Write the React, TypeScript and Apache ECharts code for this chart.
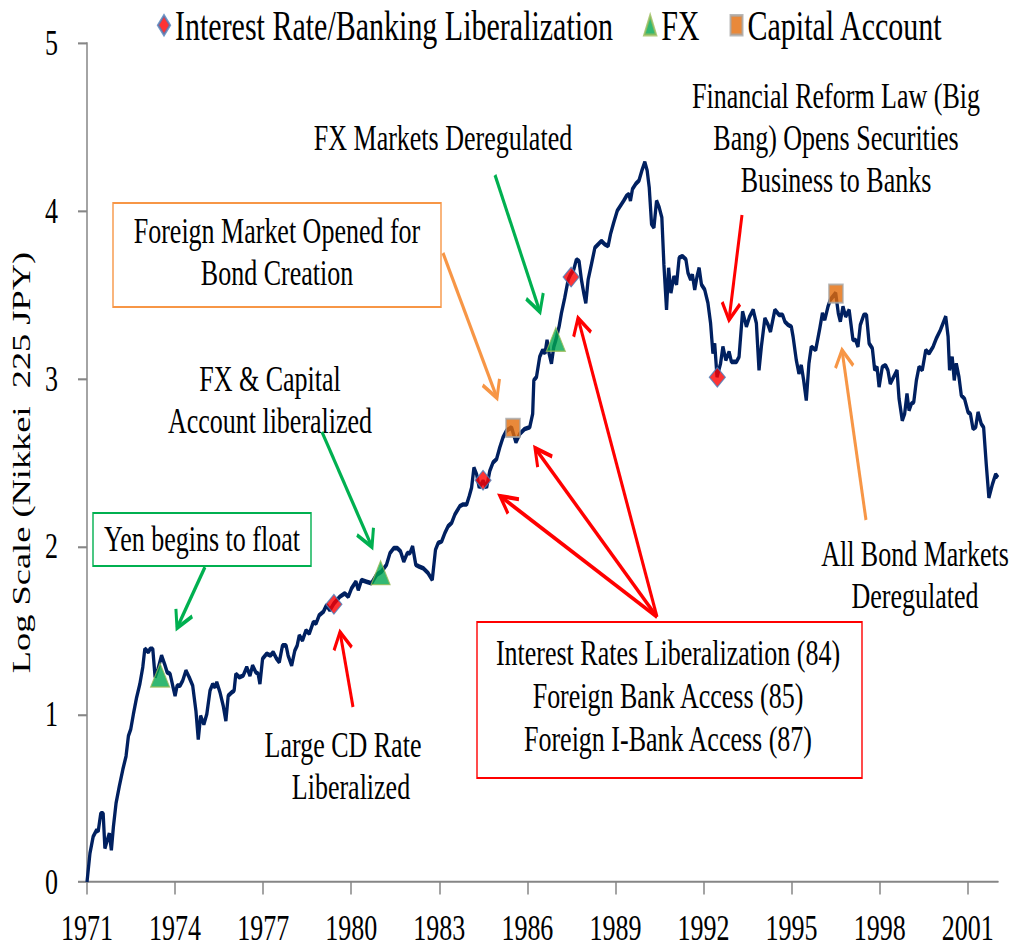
import React, { useEffect, useRef } from "react";
import * as echarts from "echarts";

// ---------- data ----------
const years = [
  1971.00,1971.10,1971.21,1971.33,1971.38,1971.47,1971.55,1971.61,1971.69,1971.76,
  1971.83,1971.90,1971.99,1972.10,1972.22,1972.33,1972.41,1972.49,1972.58,1972.69,
  1972.80,1972.90,1972.97,1973.09,1973.15,1973.24,1973.32,1973.42,1973.54,1973.66,
  1973.73,1973.83,1973.92,1974.00,1974.07,1974.17,1974.26,1974.37,1974.48,1974.60,
  1974.71,1974.79,1974.87,1974.98,1975.08,1975.19,1975.28,1975.36,1975.42,1975.53,
  1975.64,1975.73,1975.81,1975.93,1976.01,1976.07,1976.19,1976.32,1976.44,1976.55,
  1976.64,1976.75,1976.83,1976.89,1976.98,1977.12,1977.25,1977.34,1977.46,1977.55,
  1977.66,1977.78,1977.85,1977.97,1978.08,1978.16,1978.23,1978.34,1978.46,1978.57,
  1978.71,1978.80,1978.91,1979.05,1979.16,1979.27,1979.41,1979.61,1979.78,1979.90,
  1980.01,1980.16,1980.24,1980.35,1980.52,1980.69,1980.86,1981.03,1981.20,1981.32,
  1981.45,1981.57,1981.68,1981.79,1981.91,1982.00,1982.09,1982.20,1982.31,1982.45,
  1982.62,1982.76,1982.87,1982.96,1983.08,1983.19,1983.30,1983.42,1983.53,1983.70,
  1983.81,1983.93,1984.02,1984.10,1984.18,1984.27,1984.36,1984.49,1984.61,1984.72,
  1984.83,1984.95,1985.06,1985.17,1985.29,1985.46,1985.61,1985.74,1985.91,1986.08,
  1986.18,1986.22,1986.31,1986.42,1986.52,1986.60,1986.67,1986.74,1986.82,1986.90,
  1986.97,1987.08,1987.16,1987.27,1987.39,1987.47,1987.58,1987.67,1987.76,1987.84,
  1987.92,1987.99,1988.07,1988.18,1988.30,1988.41,1988.52,1988.64,1988.75,1988.83,
  1988.94,1989.06,1989.17,1989.28,1989.38,1989.46,1989.51,1989.58,1989.69,1989.80,
  1989.90,1990.00,1990.08,1990.15,1990.23,1990.31,1990.40,1990.49,1990.58,1990.65,
  1990.74,1990.81,1990.89,1990.99,1991.08,1991.17,1991.28,1991.40,1991.47,1991.56,
  1991.62,1991.70,1991.78,1991.85,1991.93,1992.04,1992.15,1992.24,1992.32,1992.38,
  1992.46,1992.58,1992.66,1992.76,1992.87,1992.95,1993.12,1993.21,1993.33,1993.46,
  1993.57,1993.69,1993.80,1993.89,1993.97,1994.09,1994.20,1994.28,1994.43,1994.57,
  1994.69,1994.77,1994.88,1994.99,1995.05,1995.16,1995.25,1995.33,1995.41,1995.50,
  1995.59,1995.67,1995.82,1995.95,1996.05,1996.13,1996.24,1996.32,1996.50,1996.59,
  1996.66,1996.75,1996.84,1996.96,1997.09,1997.18,1997.26,1997.34,1997.46,1997.55,
  1997.64,1997.75,1997.83,1997.91,1997.98,1998.09,1998.20,1998.28,1998.36,1998.59,
  1998.66,1998.77,1998.85,1998.93,1999.00,1999.08,1999.16,1999.25,1999.34,1999.45,
  1999.57,1999.68,1999.82,1999.93,2000.07,2000.18,2000.25,2000.33,2000.38,2000.47,
  2000.54,2000.61,2000.70,2000.78,2000.89,2001.01,2001.09,2001.18,2001.27,2001.35,
  2001.46,2001.54,2001.63,2001.72,2001.84,2001.95,2002.03,
];

const logNikkei = [
  0.00,0.17,0.27,0.31,0.30,0.41,0.41,0.20,0.25,0.29,
  0.19,0.33,0.47,0.57,0.67,0.75,0.87,0.91,1.00,1.10,
  1.18,1.28,1.39,1.37,1.39,1.39,1.22,1.27,1.35,1.29,
  1.25,1.24,1.17,1.11,1.17,1.17,1.20,1.26,1.22,1.17,
  1.02,0.85,0.99,0.94,1.00,1.14,1.18,1.16,1.19,1.13,
  1.05,0.96,1.11,1.13,1.14,1.24,1.22,1.23,1.28,1.23,
  1.29,1.25,1.24,1.18,1.33,1.36,1.35,1.37,1.33,1.31,
  1.41,1.41,1.35,1.29,1.38,1.41,1.47,1.44,1.50,1.48,
  1.55,1.54,1.59,1.61,1.65,1.62,1.66,1.70,1.72,1.70,
  1.75,1.79,1.74,1.80,1.79,1.78,1.83,1.85,1.89,1.96,
  1.99,1.99,1.97,1.91,1.96,1.96,2.00,1.89,1.88,1.87,
  1.84,1.80,1.98,2.02,2.03,2.08,2.12,2.14,2.19,2.24,
  2.25,2.25,2.30,2.35,2.47,2.43,2.35,2.39,2.35,2.45,
  2.50,2.52,2.59,2.65,2.69,2.71,2.62,2.67,2.70,2.71,
  2.79,2.99,3.01,3.13,3.17,3.15,3.23,3.15,3.09,3.19,
  3.23,3.31,3.39,3.48,3.59,3.62,3.65,3.71,3.70,3.59,
  3.51,3.45,3.59,3.68,3.78,3.80,3.82,3.80,3.79,3.86,
  3.93,4.00,4.03,4.06,4.09,4.10,4.06,4.13,4.16,4.18,
  4.24,4.29,4.24,4.14,3.92,3.90,4.06,4.02,3.96,3.68,
  3.41,3.66,3.51,3.61,3.56,3.72,3.73,3.71,3.63,3.59,
  3.62,3.53,3.61,3.66,3.56,3.53,3.45,3.33,3.15,3.21,
  3.01,3.09,3.19,3.11,3.16,3.10,3.10,3.13,3.40,3.31,
  3.37,3.41,3.33,3.05,3.19,3.36,3.32,3.28,3.41,3.38,
  3.38,3.34,3.32,3.31,3.25,3.11,3.03,3.08,2.99,2.87,
  3.09,3.19,3.17,3.29,3.39,3.35,3.43,3.47,3.51,3.39,
  3.34,3.43,3.37,3.41,3.23,3.23,3.19,3.32,3.38,3.38,
  3.21,3.18,3.05,3.07,2.95,3.07,3.08,3.05,2.97,3.05,
  2.88,2.75,2.79,2.91,2.81,2.85,2.86,2.99,3.07,3.05,
  3.17,3.15,3.19,3.24,3.29,3.34,3.37,3.25,3.05,3.13,
  2.99,3.09,3.01,2.90,2.88,2.80,2.79,2.70,2.71,2.80,
  2.73,2.71,2.49,2.29,2.37,2.43,2.41,
];

const interestRatePoints = [[1979.41, 1.655], [1984.49, 2.394], [1987.49, 3.605], [1992.47, 3.008]];
const fxPoints = [[1973.49, 1.233], [1981.0, 1.843], [1986.97, 3.234]];
const capitalPoints = [[1985.51, 2.706], [1996.51, 3.506]];

const xFirstYear = 1971;
const xLastTickYear = 2001;
const xLastYear = 2002.03;
const xTickStep = 3;
const legendNames = ["Interest Rate/Banking Liberalization", "FX", "Capital Account"];
const yTitle = "Log Scale (Nikkei  225 JPY)";

// ---------- layout ----------
const W = 1012;
const H = 678;
const S = 949 / H; // vertical stretch of the reference
const FONT = "Liberation Serif";
const GREEN = "#00B050";
const ORANGE = "#F79646";
const RED = "#FF0000";
const AXIS = "#868686";

const GRID_LEFT = 87;
const GRID_RIGHT = 14;
const GRID_TOP = 43 / S;
const GRID_BOTTOM = 67 / S;
const plotW = W - GRID_LEFT - GRID_RIGHT;
// second grid carries only the tick marks / labels, ending exactly on the last tick year
const tickGridRight =
  GRID_RIGHT + (plotW * (xLastYear - xLastTickYear)) / (xLastYear - xFirstYear);

type P = [number, number];
const d = (p: P): number[] => [p[0], p[1] / S];

function arrow(tail: P, tip: P, color: string) {
  const dx = tip[0] - tail[0];
  const dy = tip[1] - tail[1];
  const len = Math.hypot(dx, dy);
  const ux = dx / len, uy = dy / len;
  const L = 17, Wd = 9;
  const bx = tip[0] - ux * L, by = tip[1] - uy * L;
  const p1: P = [bx - uy * Wd, by + ux * Wd];
  const p2: P = [bx + uy * Wd, by - ux * Wd];
  const a = d(tail), b = d(tip);
  return [
    {
      type: "line",
      z: 100,
      shape: { x1: a[0], y1: a[1], x2: b[0], y2: b[1] },
      style: { stroke: color, lineWidth: 3 },
    },
    {
      type: "polyline",
      z: 100,
      shape: { points: [d(p1), b, d(p2)] },
      style: { stroke: color, lineWidth: 3, fill: null, lineJoin: "miter" },
    },
  ];
}

function label(text: string, x: number, yRef: number, lh = 30) {
  return {
    type: "text",
    z: 100,
    style: {
      text,
      x,
      y: yRef / S,
      fill: "#000",
      fontSize: 26,
      fontFamily: FONT,
      lineHeight: lh,
      align: "center",
      verticalAlign: "middle",
      textAlign: "center",
      textVerticalAlign: "middle",
    },
  };
}

function box(x: number, yRef: number, w: number, hRef: number, color: string) {
  return {
    type: "rect",
    z: 99,
    shape: { x, y: yRef / S, width: w, height: hRef / S },
    style: { fill: "rgba(255,255,255,0)", stroke: color, lineWidth: 1.4 },
  };
}

export default function App() {
  const ref = useRef<HTMLDivElement>(null);

  useEffect(() => {
    if (!ref.current) return;
    const chart = echarts.init(ref.current, null, { renderer: "svg" });
    const lineData = years.map((y, i) => [y, logNikkei[i]]);

    const graphics: any[] = [
      box(113, 203, 328, 104, ORANGE),
      box(93, 513, 218, 53, GREEN),
      box(477, 622, 385, 156, RED),
      label("FX Markets Deregulated", 443, 138),
      label("Financial Reform Law (Big\nBang) Opens Securities\nBusiness to Banks", 836, 138),
      label("Foreign Market Opened for\nBond Creation", 277, 251.5),
      label("FX & Capital\nAccount liberalized", 270, 399.5),
      label("Yen begins to float", 202, 539),
      label("Large CD Rate", 343, 745),
      label("Liberalized", 351, 787),
      label("Interest Rates Liberalization (84)\nForeign Bank Access (85)\nForeign I-Bank Access (87)", 668, 696, 31),
      label("All Bond Markets\nDeregulated", 915, 574.5),
      ...arrow([205, 567], [177, 628], GREEN),
      ...arrow([322, 432], [372, 547], GREEN),
      ...arrow([443, 253], [497, 398], ORANGE),
      ...arrow([495, 175], [540, 312], GREEN),
      ...arrow([353, 707], [340, 632], RED),
      ...arrow([657, 617], [500, 496], RED),
      ...arrow([657, 617], [535, 448], RED),
      ...arrow([657, 617], [578, 318], RED),
      ...arrow([742, 215], [729, 320], RED),
      ...arrow([866, 520], [842, 350], ORANGE),
    ];

    chart.setOption({
      animation: false,
      backgroundColor: "#fff",
      textStyle: { fontFamily: FONT },
      grid: [
        { left: GRID_LEFT, right: GRID_RIGHT, top: GRID_TOP, bottom: GRID_BOTTOM, containLabel: false },
        { left: GRID_LEFT, right: tickGridRight, top: GRID_TOP, bottom: GRID_BOTTOM, containLabel: false },
      ],
      legend: {
        left: 157,
        top: 3,
        padding: 0,
        itemGap: 30,
        itemWidth: 12,
        itemHeight: 14,
        textStyle: { fontSize: 30, fontFamily: FONT, color: "#000" },
        data: [
          { name: legendNames[0], icon: "diamond" },
          { name: legendNames[1], icon: "triangle" },
          { name: legendNames[2], icon: "rect" },
        ],
      },
      xAxis: [
        {
          gridIndex: 0,
          type: "value",
          min: xFirstYear,
          max: xLastYear,
          splitLine: { show: false },
          axisLine: { show: true, lineStyle: { color: AXIS, width: 1.5 } },
          axisTick: { show: false },
          axisLabel: { show: false },
        },
        {
          gridIndex: 1,
          type: "value",
          min: xFirstYear,
          max: xLastTickYear,
          interval: xTickStep,
          splitLine: { show: false },
          axisLine: { show: false },
          axisTick: { show: true, length: 9, lineStyle: { color: AXIS, width: 1.5 } },
          axisLabel: {
            fontSize: 26,
            fontFamily: FONT,
            color: "#000",
            margin: 20,
            showMinLabel: true,
            showMaxLabel: true,
            formatter: (v: number) => String(Math.round(v)),
          },
        },
      ],
      yAxis: [
        {
          gridIndex: 0,
          type: "value",
          min: 0,
          max: 5,
          interval: 1,
          name: yTitle,
          nameLocation: "middle",
          nameGap: 49,
          nameTextStyle: { fontSize: 26, fontFamily: FONT, color: "#000" },
          splitLine: { show: false },
          axisLine: { show: true, lineStyle: { color: AXIS, width: 1.5 } },
          axisTick: { show: true, length: 9, lineStyle: { color: AXIS, width: 1.5 } },
          axisLabel: { fontSize: 26, fontFamily: FONT, color: "#000", margin: 29 },
        },
        {
          gridIndex: 1,
          type: "value",
          min: 0,
          max: 5,
          show: false,
        },
      ],
      series: [
        {
          name: "Nikkei",
          type: "line",
          xAxisIndex: 0,
          yAxisIndex: 0,
          data: lineData,
          showSymbol: false,
          symbol: "none",
          lineStyle: { color: "#002060", width: 3.3 },
          z: 2,
        },
        {
          name: legendNames[0],
          type: "scatter",
          xAxisIndex: 0,
          yAxisIndex: 0,
          data: interestRatePoints,
          symbol: "diamond",
          symbolSize: [16, 14],
          itemStyle: { color: RED, borderColor: "#4A7EBB", borderWidth: 1 },
          z: 5,
        },
        {
          name: legendNames[1],
          type: "scatter",
          xAxisIndex: 0,
          yAxisIndex: 0,
          data: fxPoints,
          symbol: "triangle",
          symbolSize: [19, 17],
          itemStyle: { color: "#00A650", borderColor: "#9BBB59", borderWidth: 1 },
          z: 5,
        },
        {
          name: legendNames[2],
          type: "scatter",
          xAxisIndex: 0,
          yAxisIndex: 0,
          data: capitalPoints,
          symbol: "rect",
          symbolSize: [14, 13],
          itemStyle: { color: "#E36C09", borderColor: "#A6A6A6", borderWidth: 1.5 },
          z: 5,
        },
      ],
      graphic: graphics,
    });

    return () => chart.dispose();
  }, []);

  return (
    <div
      ref={ref}
      style={{
        position: "fixed",
        left: 0,
        top: 0,
        width: W,
        height: H,
        transform: `scaleY(${S})`,
        transformOrigin: "0 0",
        background: "#fff",
      }}
    />
  );
}
